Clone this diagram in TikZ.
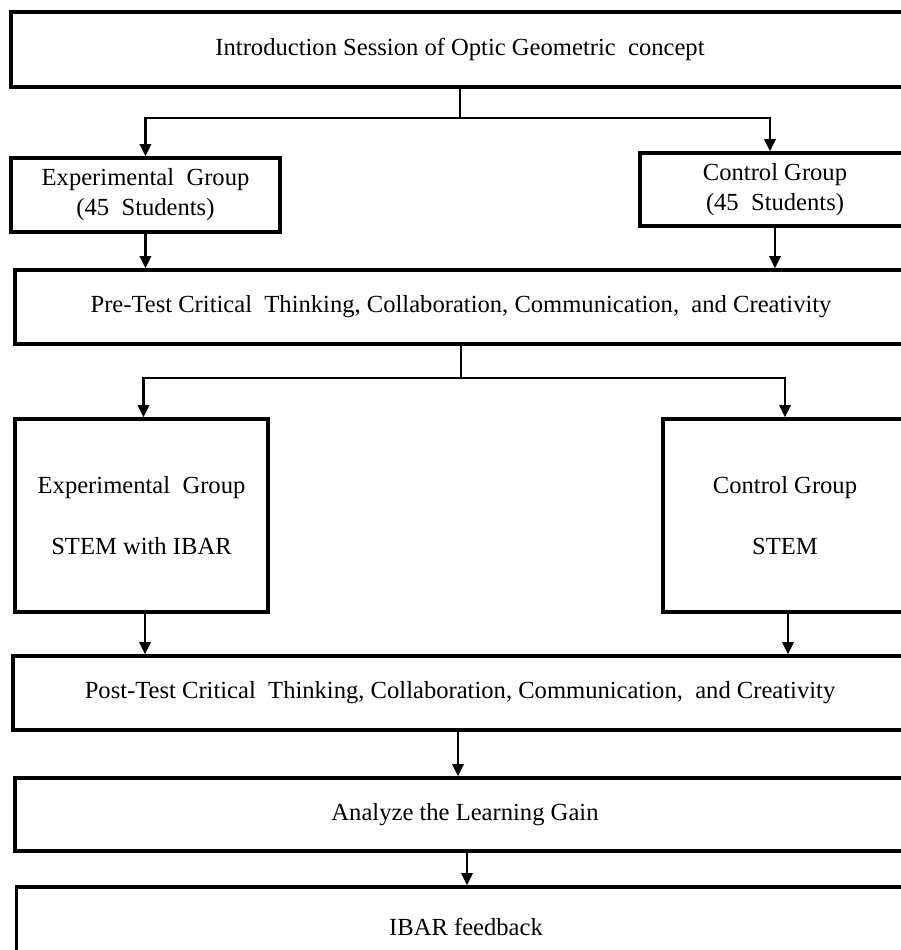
\documentclass[tikz,border=0pt]{standalone}
\usepackage{fontspec}
\setmainfont{Liberation Serif}
\usetikzlibrary{arrows.meta}

\begin{document}
\begin{tikzpicture}[x=0.02cm, y=-0.02cm,
    box/.style={draw, line width=1.9pt, fill=white, align=center, inner sep=0pt,
        font=\fontsize{14}{17}\selectfont},
    link/.style={line width=1.3pt},
    arrow/.style={link, -{Triangle[length=7pt, width=6.5pt]}}]
    \useasboundingbox (0,0) rectangle (901,950);
    \clip (0,0) rectangle (901,950);
    % boxes
    \node[box, minimum width=17.96cm, minimum height=1.5cm] (1) at (460,49.5)
        {Introduction Session of Optic Geometric\ \ concept};
    \node[box, minimum width=5.38cm, minimum height=1.48cm] (2) at (145.5,195)
        {Experimental\ \ Group\\[0pt] (45\ \ Students)};
    \node[box, minimum width=5.4cm, minimum height=1.46cm] (3) at (775,189.5)
        {Control Group\\[0pt] (45\ \ Students)};
    \node[box, minimum width=17.84cm, minimum height=1.48cm] (4) at (461,307)
        {Pre-Test Critical\ \ Thinking, Collaboration, Communication,\ \ and Creativity};
    \node[box, minimum width=5.06cm, minimum height=3.86cm] (5) at (141.5,515.5)
        {Experimental\ \ Group\\[18pt] STEM with IBAR};
    \node[box, minimum width=4.88cm, minimum height=3.86cm] (6) at (785,515.5)
        {Control Group\\[18pt] STEM};
    \node[box, minimum width=17.88cm, minimum height=1.48cm] (7) at (460,693)
        {Post-Test Critical\ \ Thinking, Collaboration, Communication,\ \ and Creativity};
    \node[box, minimum width=18cm, minimum height=1.46cm] (8) at (465,814.5)
        {Analyze the Learning Gain};
    \node[box, minimum width=17.98cm, minimum height=1.6cm] (9) at (466,927)
        {IBAR feedback};
    % connectors
    \coordinate (j1) at (460,118);
    \coordinate (j2) at (461,378);
    \draw[link] (1.south) -- (j1);
    \draw[arrow] (j1) -| (2.north);
    \draw[arrow] (j1) -| ([xshift=-0.1cm]3.north);
    \draw[arrow] (2.south) -- (2.south |- 4.north);
    \draw[arrow] (3.south) -- (3.south |- 4.north);
    \draw[link] (4.south) -- (j2);
    \draw[arrow] (j2) -| ([xshift=0.04cm]5.north);
    \draw[arrow] (j2) -| (6.north);
    \draw[arrow] ([xshift=0.07cm]5.south) -- ([xshift=0.07cm]5.south |- 7.north);
    \draw[arrow] ([xshift=0.06cm]6.south) -- ([xshift=0.06cm]6.south |- 7.north);
    \draw[arrow] ([xshift=-0.04cm]7.south) -- ([xshift=-0.04cm]7.south |- 8.north);
    \draw[arrow] ([xshift=0.04cm]8.south) -- ([xshift=0.04cm]8.south |- 9.north);
\end{tikzpicture}
\end{document}
